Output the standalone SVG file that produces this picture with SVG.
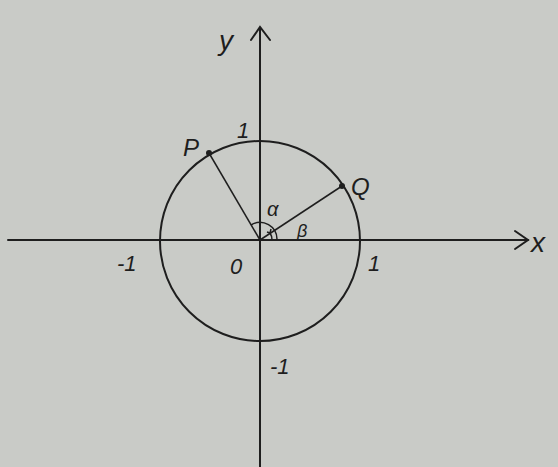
<svg xmlns="http://www.w3.org/2000/svg" width="558" height="467" viewBox="0 0 558 467">
<defs>
<style>
.ln{stroke:#1e1e1e;stroke-width:2;fill:none;stroke-linecap:round}
.thin{stroke:#1e1e1e;stroke-width:1.5;fill:none}
.t{font-family:"Liberation Sans",Arial,sans-serif;font-style:italic;fill:#1e1e1e}
</style>
</defs>
<rect width="558" height="467" fill="#c9cbc7"/>
<g id="axes">
<line class="ln" x1="8" y1="240" x2="528" y2="240"/>
<polyline class="ln" points="515,231 528,240 515,249"/>
<line class="ln" x1="260" y1="28" x2="260" y2="467"/>
<polyline class="ln" points="251,40 260,27 270,40"/>
</g>
<g id="circle">
<circle class="ln" cx="260" cy="241" r="100"/>
</g>
<g id="connectors">
<line class="thin" x1="260" y1="240" x2="209" y2="153"/>
<line class="thin" x1="260" y1="240" x2="342" y2="186"/>
<path class="thin" d="M277,240 A17,17 0 0 0 251,225"/>
<path class="thin" d="M272,240 A12,12 0 0 0 270,233"/>
<polyline class="thin" points="267,232 270,233 271,229"/>
</g>
<g id="P"><circle cx="209" cy="153" r="3" fill="#1e1e1e"/><text class="t" x="183" y="156" font-size="24">P</text></g>
<g id="Q"><circle cx="342" cy="186" r="3" fill="#1e1e1e"/><text class="t" x="351" y="195" font-size="24">Q</text></g>
<g id="labels">
<text class="t" x="219" y="50" font-size="28">y</text>
<text class="t" x="531" y="252" font-size="28">x</text>
<text class="t" x="237" y="138" font-size="22">1</text>
<text class="t" x="368" y="271" font-size="22">1</text>
<text class="t" x="117" y="271" font-size="22">-1</text>
<text class="t" x="230" y="274" font-size="22">0</text>
<text class="t" x="270" y="374" font-size="22">-1</text>
<text class="t" x="267" y="216" font-size="20">α</text>
<text class="t" x="297" y="237" font-size="18">β</text>
</g>
</svg>
